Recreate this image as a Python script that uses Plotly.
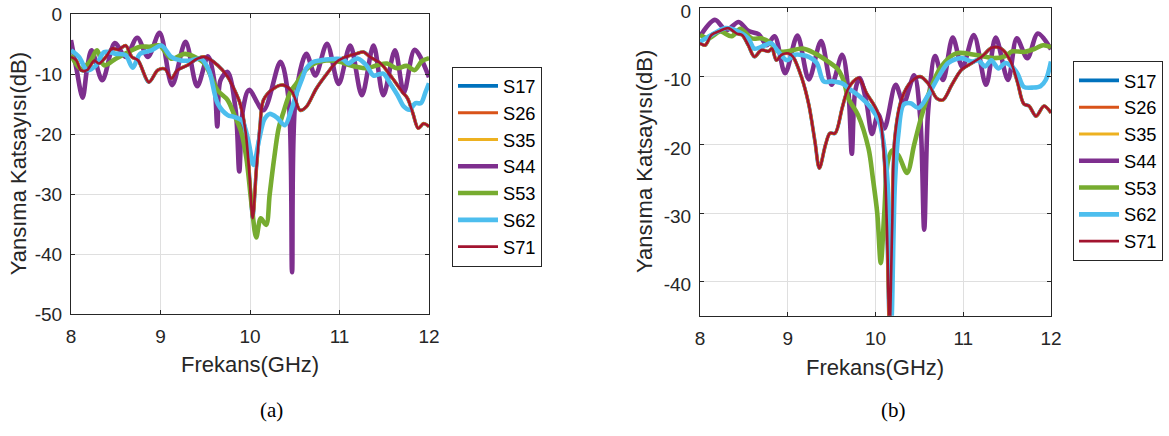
import plotly.graph_objects as go

# ---------------- data : panel (a) ----------------
F44_A = [8.00, 8.06, 8.13, 8.18, 8.23, 8.35, 8.49, 8.61, 8.74, 8.86, 8.99, 9.13, 9.28, 9.41, 9.53, 9.60, 9.635,
         9.67, 9.75, 9.84, 9.88, 9.92, 9.99, 10.15, 10.34, 10.43, 10.47, 10.51, 10.63, 10.73, 10.86, 10.99, 11.12,
         11.25, 11.38, 11.49, 11.62, 11.72, 11.84, 12.00]
S44_A = [-4.3, -9.0, -13.9, -9.0, -6.0, -11.0, -4.8, -7.1, -3.9, -7.1, -3.1, -11.8, -4.6, -12.0, -7.0, -11.0, -18.7,
         -11.0, -9.6, -16.0, -26.2, -16.0, -12.6, -16.0, -7.9, -14.0, -43.0, -14.0, -6.6, -10.2, -4.9, -11.6, -5.2,
         -13.5, -5.2, -13.5, -6.0, -13.0, -5.9, -10.5]

F53_A = [8.00, 8.11, 8.22, 8.29, 8.37, 8.50, 8.64, 8.77, 8.88, 8.99, 9.12, 9.27, 9.38, 9.49, 9.64, 9.75, 9.82, 9.90,
         9.96, 10.02, 10.07, 10.12, 10.18, 10.22, 10.27, 10.32, 10.37, 10.45, 10.52, 10.62, 10.72, 10.85, 11.00, 11.10,
         11.20, 11.30, 11.42, 11.53, 11.64, 11.75, 11.84, 11.92, 12.00]
S53_A = [-6.8, -9.1, -7.7, -6.0, -8.5, -7.4, -6.3, -5.4, -5.4, -5.2, -7.4, -6.6, -7.1, -8.2, -12.7, -14.3, -16.6, -19.5,
         -24.0, -32.0, -37.2, -34.0, -35.1, -30.0, -24.0, -19.0, -16.5, -13.0, -11.5, -9.3, -8.2, -7.7, -7.9, -8.4,
         -8.8, -9.0, -8.5, -8.2, -9.0, -8.6, -9.3, -7.8, -7.3]

F62_A = [8.00, 8.09, 8.18, 8.28, 8.37, 8.51, 8.61, 8.69, 8.77, 8.90, 9.01, 9.12, 9.23, 9.34, 9.45, 9.54, 9.64, 9.75,
         9.82, 9.91, 9.98, 10.04, 10.10, 10.16, 10.22, 10.30, 10.39, 10.46, 10.52, 10.58, 10.63, 10.70, 10.78, 10.88,
         10.97, 11.04, 11.10, 11.16, 11.21, 11.30, 11.38, 11.44, 11.49, 11.57, 11.65, 11.72, 11.78, 11.85, 11.91,
         11.96, 12.00]
S62_A = [-6.0, -7.1, -9.3, -8.5, -6.3, -6.6, -6.8, -8.9, -6.6, -6.0, -5.2, -7.1, -7.7, -7.7, -7.4, -9.3, -14.9, -16.8,
         -17.1, -17.7, -21.0, -25.1, -21.0, -17.5, -16.6, -17.2, -18.5, -16.0, -13.2, -10.8, -9.0, -8.0, -7.7, -7.5,
         -7.4, -7.5, -8.2, -7.6, -7.4, -8.5, -10.2, -10.0, -9.9, -11.6, -13.5, -15.4, -15.9, -14.8, -14.8,
         -13.0, -11.5]

F71_A = [8.00, 8.06, 8.11, 8.18, 8.26, 8.31, 8.39, 8.46, 8.53, 8.61, 8.68, 8.75, 8.87, 8.97, 9.05, 9.12, 9.19, 9.30,
         9.41, 9.49, 9.64, 9.75, 9.82, 9.89, 9.95, 9.99, 10.03, 10.07, 10.11, 10.15, 10.26, 10.37, 10.47, 10.56, 10.63,
         10.74, 10.86, 10.97, 11.07, 11.18, 11.27, 11.34, 11.46, 11.57, 11.70, 11.76, 11.82, 11.88, 11.94, 12.00]
S71_A = [-7.1, -7.7, -9.3, -9.3, -7.7, -8.2, -7.1, -5.7, -5.9, -5.2, -7.1, -7.7, -11.3, -9.3, -9.1, -10.7, -9.3, -8.5,
         -7.4, -7.1, -8.5, -10.4, -12.4, -14.9, -19.5, -26.0, -34.0, -26.0, -19.0, -14.3, -12.4, -11.8, -12.9, -16.0,
         -15.4, -12.4, -9.9, -7.9, -7.1, -6.6, -6.3, -7.1, -8.2, -10.2, -12.9, -14.0, -16.5, -19.0, -18.2, -18.7]
# S17, S26 and S35 lie exactly under S71 in the picture
S17_A = S71_A
S26_A = S71_A
S35_A = S71_A

# ---------------- data : panel (b) ----------------
F44_B = [8.00, 8.17, 8.30, 8.44, 8.55, 8.67, 8.76, 8.85, 8.97, 9.11, 9.24, 9.38, 9.50, 9.62, 9.69, 9.73, 9.77, 9.82,
         9.90, 9.96, 10.03, 10.10, 10.23, 10.32, 10.44, 10.51, 10.555, 10.60, 10.68, 10.77, 10.88, 10.99, 11.12,
         11.26, 11.37, 11.51, 11.61, 11.73, 11.85, 12.00]
S44_B = [-4.1, -1.7, -3.2, -2.0, -3.3, -3.8, -5.4, -4.1, -9.5, -4.0, -10.4, -4.8, -11.2, -6.8, -12.0, -21.3, -12.0,
         -10.2, -14.0, -18.4, -15.5, -17.6, -11.2, -13.9, -9.8, -16.0, -32.4, -15.0, -7.0, -10.5, -4.3, -8.6, -3.9,
         -11.2, -4.3, -10.5, -4.4, -7.3, -3.7, -6.0]

F53_B = [8.00, 8.10, 8.23, 8.36, 8.46, 8.59, 8.70, 8.79, 8.89, 9.00, 9.17, 9.31, 9.46, 9.57, 9.64, 9.69, 9.80, 9.92,
         9.97, 10.02, 10.06, 10.10, 10.14, 10.19, 10.26, 10.36, 10.44, 10.52, 10.62, 10.75, 10.92, 11.13, 11.35,
         11.48, 11.56, 11.69, 11.82, 11.91, 12.00]
S53_B = [-3.9, -4.4, -3.4, -4.1, -3.0, -4.4, -4.4, -4.9, -6.3, -6.3, -5.9, -6.6, -7.8, -8.9, -10.7, -13.2, -15.6, -20.5,
         -24.9, -30.0, -37.3, -30.0, -22.5, -20.8, -21.5, -24.1, -20.0, -16.0, -12.0, -8.5, -6.6, -6.8, -7.3,
         -7.0, -6.3, -6.4, -5.9, -5.4, -5.7]

F62_B = [8.00, 8.13, 8.29, 8.40, 8.55, 8.62, 8.74, 8.81, 8.89, 8.99, 9.08, 9.24, 9.33, 9.41, 9.50, 9.62, 9.70, 9.80,
         9.95, 10.04, 10.09, 10.14, 10.18, 10.22, 10.26, 10.32, 10.40, 10.49, 10.60, 10.72, 10.83, 10.98, 11.10,
         11.17, 11.25, 11.32, 11.40, 11.48, 11.56, 11.62, 11.69, 11.80, 11.88, 11.94, 12.00]
S62_B = [-4.9, -3.9, -2.9, -3.2, -4.4, -5.9, -5.4, -5.1, -6.3, -7.6, -6.8, -7.1, -8.0, -10.7, -10.7, -11.0, -11.8,
         -12.7, -14.6, -16.5, -19.5, -26.0, -46.0, -26.0, -18.5, -14.1, -13.9, -14.6, -12.7, -10.0, -8.0, -7.3, -7.8,
         -7.6, -8.5, -7.6, -8.8, -8.0, -8.6, -9.6, -11.5, -11.6, -11.4, -10.5, -7.8]

F71_B = [8.00, 8.06, 8.13, 8.21, 8.32, 8.42, 8.48, 8.55, 8.62, 8.70, 8.78, 8.82, 8.87, 8.93, 9.01, 9.06, 9.16, 9.24,
         9.31, 9.36, 9.43, 9.48, 9.54, 9.62, 9.68, 9.74, 9.81, 9.90, 9.98, 10.05, 10.10, 10.13, 10.16, 10.19, 10.22,
         10.30, 10.41, 10.51, 10.60, 10.70, 10.77, 10.87, 10.98, 11.10, 11.21, 11.32, 11.40, 11.46, 11.52, 11.56,
         11.62, 11.69, 11.75, 11.83, 11.92, 12.00]
S71_B = [-5.1, -5.4, -3.9, -3.4, -2.9, -3.7, -3.9, -5.4, -7.1, -6.1, -6.3, -5.9, -7.6, -6.8, -6.6, -7.1, -10.2, -14.1,
         -19.5, -23.4, -20.0, -18.3, -18.3, -14.6, -12.0, -10.8, -10.2, -12.5, -14.1, -16.1, -22.0, -32.0, -47.0,
         -32.0, -19.0, -13.2, -10.7, -10.0, -11.0, -13.2, -13.4, -11.2, -9.0, -8.0, -7.1, -5.8, -5.7, -6.2, -7.3,
         -8.4, -10.9, -14.0, -14.3, -15.8, -14.3, -15.3]
S17_B = S71_B
S26_B = S71_B
S35_B = S71_B

NAMES = ["S17", "S26", "S35", "S44", "S53", "S62", "S71"]
X_TICKS = [8, 9, 10, 11, 12]
Y_TICKS_A = [0, -10, -20, -30, -40, -50]
Y_TICKS_B = [0, -10, -20, -30, -40]

# ---------------- styles ----------------
COLORS = ["#0072BD", "#D95319", "#EDB120", "#7E2F8E", "#77AC30", "#4DBEEE", "#A2142F"]
WIDTHS = [3.6, 3.0, 3.0, 4.6, 4.6, 4.6, 2.6]
W, H = 1169, 436
AX = "#262626"
GRID = "#dfdfdf"
FONT = "Liberation Sans, Arial, sans-serif"
SERIF = "Liberation Serif, Times New Roman, serif"

panel_a = [(F71_A, S17_A), (F71_A, S26_A), (F71_A, S35_A), (F44_A, S44_A),
           (F53_A, S53_A), (F62_A, S62_A), (F71_A, S71_A)]
panel_b = [(F71_B, S17_B), (F71_B, S26_B), (F71_B, S35_B), (F44_B, S44_B),
           (F53_B, S53_B), (F62_B, S62_B), (F71_B, S71_B)]

fig = go.Figure()
for panel, xa, ya, leg in [(panel_a, "x", "y", "legend"), (panel_b, "x2", "y2", "legend2")]:
    for i, (fx, sy) in enumerate(panel):
        fig.add_trace(go.Scatter(
            x=fx, y=sy, name=NAMES[i], mode="lines", xaxis=xa, yaxis=ya, legend=leg,
            line=dict(color=COLORS[i], width=WIDTHS[i], shape="spline", smoothing=0.9),
        ))

def px(v):
    return v / W

def py(v):
    return 1 - v / H

axis_common = dict(
    showline=True, linecolor=AX, linewidth=1, mirror="ticks",
    ticks="inside", ticklen=4, tickcolor=AX, tickwidth=1,
    showgrid=True, gridcolor=GRID, gridwidth=1, zeroline=False,
    tickfont=dict(family=FONT, size=19, color=AX), ticklabeloverflow="allow",
)

legend_common = dict(xanchor="left", yanchor="top", bordercolor=AX, borderwidth=1, bgcolor="white",
                     font=dict(family=FONT, size=18.3, color="black"), itemwidth=40, tracegroupgap=0)

fig.update_layout(
    width=W, height=H, autosize=False,
    margin=dict(l=0, r=0, t=0, b=0, autoexpand=False),
    paper_bgcolor="white", plot_bgcolor="white",
    xaxis=dict(domain=[px(71), px(429)], range=[8, 12], tickvals=X_TICKS,
               ticktext=[str(v) for v in X_TICKS], anchor="y", ticklabelstandoff=5, **axis_common),
    yaxis=dict(domain=[py(314.3), py(14.3)], range=[-50, 0], tickvals=Y_TICKS_A,
               ticktext=[str(v) for v in Y_TICKS_A], anchor="x", ticklabelstandoff=4, **axis_common),
    xaxis2=dict(domain=[px(700), px(1051)], range=[8, 12], tickvals=X_TICKS,
                ticktext=[str(v) for v in X_TICKS], anchor="y2", ticklabelstandoff=5, **axis_common),
    yaxis2=dict(domain=[py(315.7), py(8.3)], range=[-45, 0], tickvals=Y_TICKS_B,
                ticktext=[str(v) for v in Y_TICKS_B], anchor="x2", ticklabelstandoff=4,
                ticklabelshift=3, **axis_common),
    legend=dict(x=px(452), y=py(66.5), **legend_common),
    legend2=dict(x=px(1073), y=py(61), **legend_common),
    showlegend=True,
)

ann = [
    dict(text="Frekans(GHz)", x=px(250), y=py(364), size=22, angle=0, fam=FONT, col=AX),
    dict(text="Frekans(GHz)", x=px(875.5), y=py(367), size=22, angle=0, fam=FONT, col=AX),
    dict(text="Yansıma Katsayısı(dB)", x=px(18), y=py(164.3), size=22, angle=-90, fam=FONT, col=AX),
    dict(text="Yansıma Katsayısı(dB)", x=px(644), y=py(162), size=22, angle=-90, fam=FONT, col=AX),
    dict(text="(a)", x=px(271), y=py(410), size=21, angle=0, fam=SERIF, col="black"),
    dict(text="(b)", x=px(893), y=py(410), size=21, angle=0, fam=SERIF, col="black"),
]
for a in ann:
    fig.add_annotation(text=a["text"], x=a["x"], y=a["y"], xref="paper", yref="paper",
                       xanchor="center", yanchor="middle", showarrow=False, textangle=a["angle"],
                       font=dict(family=a["fam"], size=a["size"], color=a["col"]))

# remove the browser's default 8px body margin so the figure sits at the page origin
fig.write_html("out.html", config={"displayModeBar": False, "staticPlot": True},
               post_script="document.body.style.margin='0';document.body.style.padding='0';")
